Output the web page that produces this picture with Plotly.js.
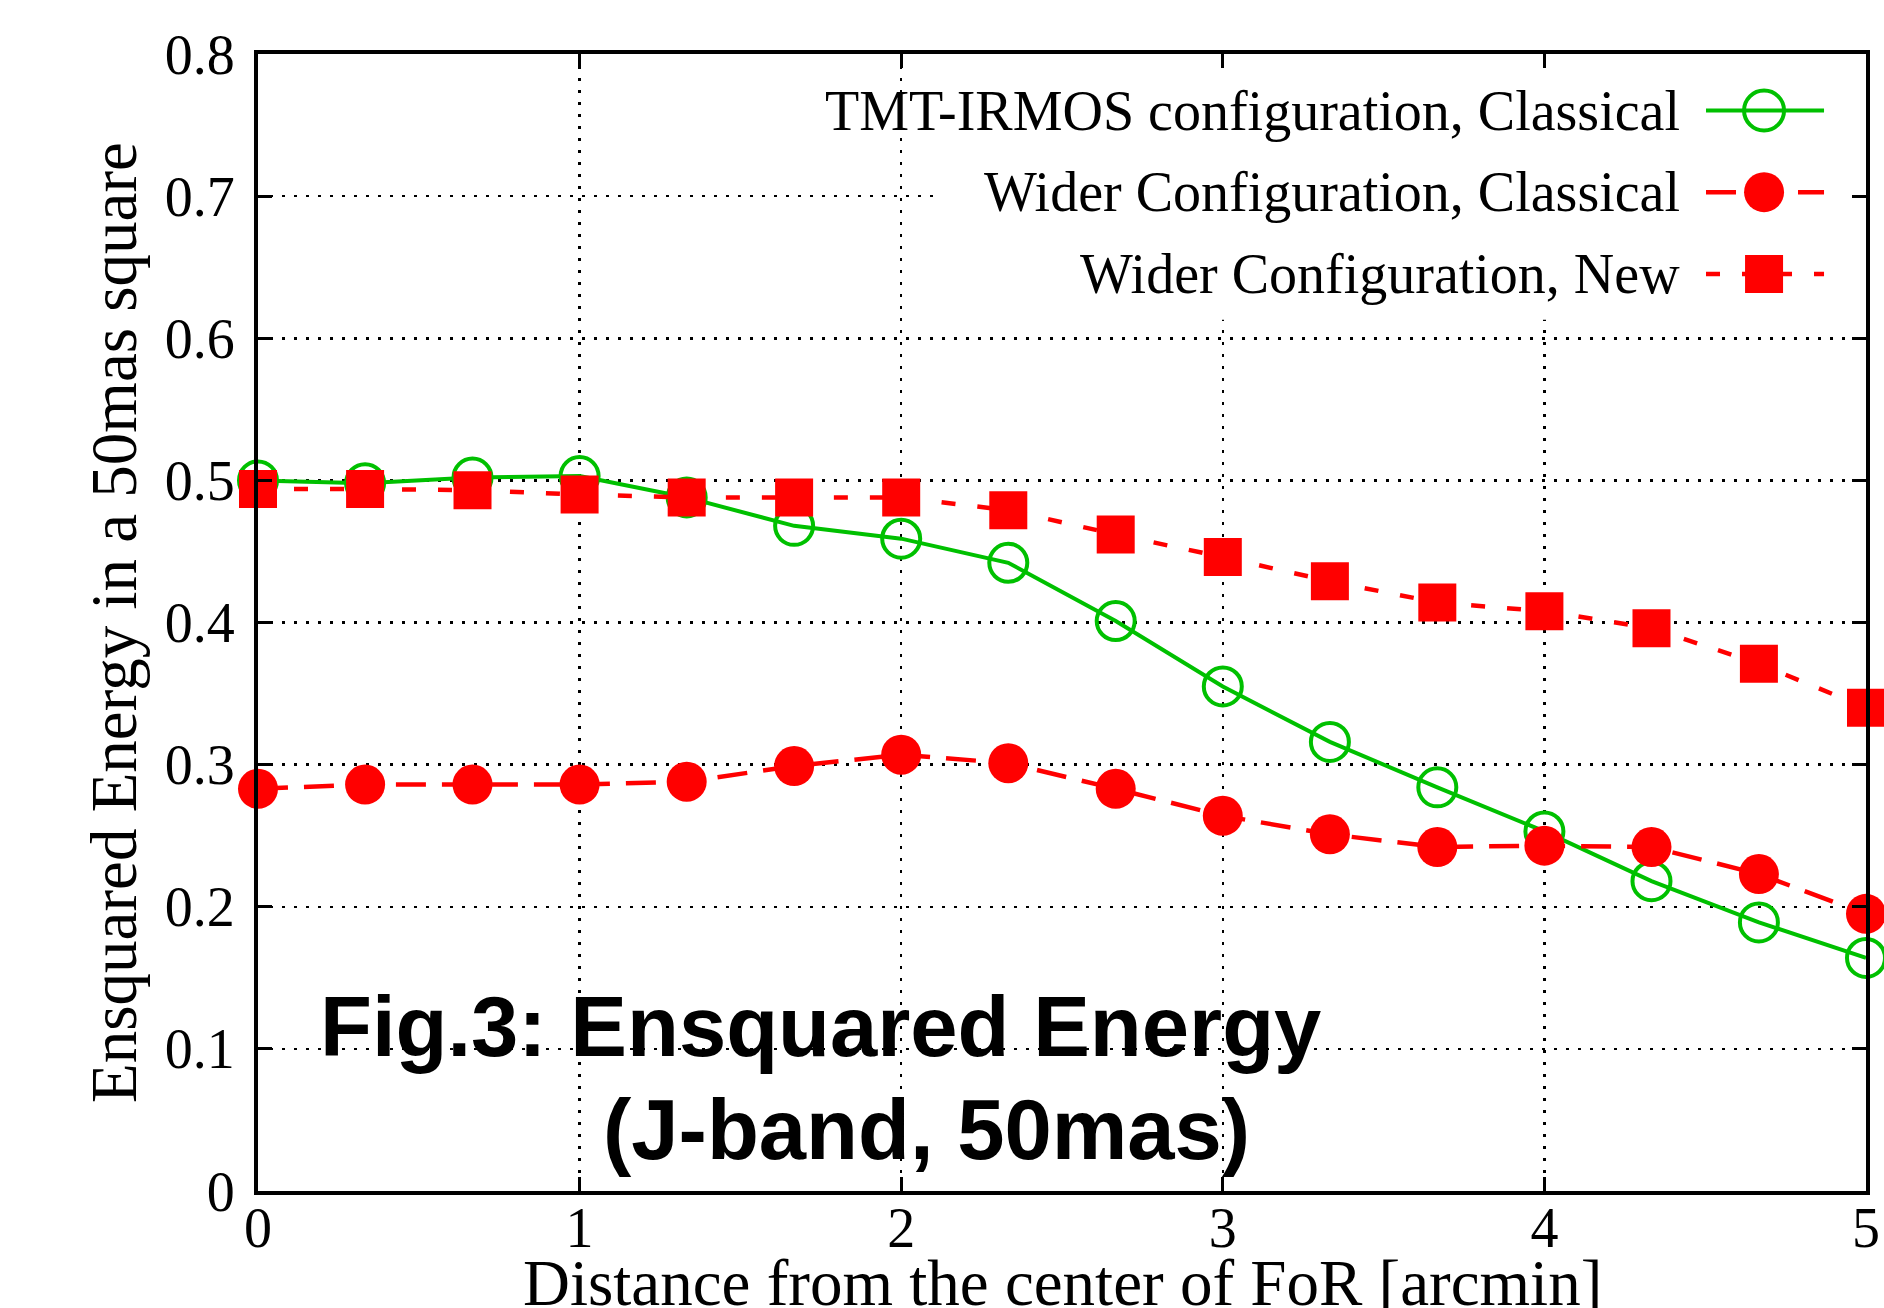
<!DOCTYPE html>
<html>
<head>
<meta charset="utf-8">
<script src="https://cdn.plot.ly/plotly-3.0.1.min.js"></script>
<style>
  html, body { margin: 0; padding: 0; background: #ffffff; overflow: hidden; }
  #chart { width: 1884px; height: 1308px; }
</style>
</head>
<body>
<div id="chart"></div>
<script>
// ---- data ----
const distance = [0, 0.333, 0.667, 1, 1.333, 1.667, 2, 2.333, 2.667, 3, 3.333, 3.667, 4, 4.333, 4.667, 5];
const tmtClassical = [0.500, 0.498, 0.502, 0.503, 0.488, 0.468, 0.459, 0.442, 0.401, 0.355, 0.316, 0.284, 0.253, 0.218, 0.189, 0.164];
const widerClassical = [0.283, 0.286, 0.286, 0.286, 0.288, 0.299, 0.307, 0.301, 0.283, 0.264, 0.251, 0.242, 0.243, 0.242, 0.223, 0.195];
const widerNew = [0.494, 0.494, 0.493, 0.490, 0.488, 0.488, 0.488, 0.479, 0.462, 0.446, 0.429, 0.414, 0.408, 0.396, 0.371, 0.340];

const seriesNames = ["TMT-IRMOS configuration, Classical", "Wider Configuration, Classical", "Wider Configuration, New"];
const xTickVals = [0, 1, 2, 3, 4, 5];
const xTickText = ["0", "1", "2", "3", "4", "5"];
const yTickVals = [0, 0.1, 0.2, 0.3, 0.4, 0.5, 0.6, 0.7, 0.8];
const yTickText = ["0", "0.1", "0.2", "0.3", "0.4", "0.5", "0.6", "0.7", "0.8"];
const xTitle = "Distance from the center of FoR [arcmin]";
const yTitle = "Ensquared Energy in a 50mas square";
const figLine1 = "Fig.3: Ensquared Energy";
const figLine2 = "(J-band, 50mas)";

// ---- styles ----
const GREEN = "#00c000";
const RED = "#ff0000";
const SERIF = "Liberation Serif, Times New Roman, serif";
const SANS = "Liberation Sans, Arial, sans-serif";
const dashCircle = "30px,16px";
const dashSquare = "14px,22px";

const traces = [
  {
    x: distance, y: tmtClassical, name: seriesNames[0], type: "scatter", mode: "lines+markers",
    line: { color: GREEN, width: 4 },
    marker: { symbol: "circle-open", size: 38, color: GREEN, line: { color: GREEN, width: 4 } },
    cliponaxis: false
  },
  {
    x: distance, y: widerClassical, name: seriesNames[1], type: "scatter", mode: "lines+markers",
    line: { color: RED, width: 4.5, dash: dashCircle },
    marker: { symbol: "circle", size: 40, color: RED },
    cliponaxis: false
  },
  {
    x: distance, y: widerNew, name: seriesNames[2], type: "scatter", mode: "lines+markers",
    line: { color: RED, width: 4.5, dash: dashSquare },
    marker: { symbol: "square", size: 38, color: RED },
    cliponaxis: false
  }
];

// plot area geometry (px) used for the hand-built key
const PW = 1608, PH = 1137;
const rx = 20 / PW, ry = 20 / PH;   // marker radius in paper units
const sx = 19 / PW, sy = 19 / PH;   // square half side
const keyTextX = 0.8856;
const keyLineX0 = 0.9005, keyLineX1 = 0.9739, keyMarkX = 0.9366;
const keyRows = [0.9503, 0.8785, 0.8065];

const shapes = [
  // opaque key box hiding the grid (drawn between grid and traces)
  { type: "rect", xref: "x", yref: "y", x0: 2.124, x1: 5, y0: 0.613, y1: 0.8,
    fillcolor: "#ffffff", line: { width: 0 }, layer: "between" },
  // key samples
  { type: "line", xref: "paper", yref: "paper", x0: keyLineX0, x1: keyLineX1, y0: keyRows[0], y1: keyRows[0],
    line: { color: GREEN, width: 4 } },
  { type: "circle", xref: "paper", yref: "paper", x0: keyMarkX - rx, x1: keyMarkX + rx, y0: keyRows[0] - ry, y1: keyRows[0] + ry,
    line: { color: GREEN, width: 4 }, fillcolor: "rgba(0,0,0,0)" },
  { type: "line", xref: "paper", yref: "paper", x0: keyLineX0, x1: keyLineX1, y0: keyRows[1], y1: keyRows[1],
    line: { color: RED, width: 4.5, dash: dashCircle } },
  { type: "circle", xref: "paper", yref: "paper", x0: keyMarkX - rx, x1: keyMarkX + rx, y0: keyRows[1] - ry, y1: keyRows[1] + ry,
    line: { color: RED, width: 0 }, fillcolor: RED },
  { type: "line", xref: "paper", yref: "paper", x0: keyLineX0, x1: keyLineX1, y0: keyRows[2], y1: keyRows[2],
    line: { color: RED, width: 4.5, dash: dashSquare } },
  { type: "rect", xref: "paper", yref: "paper", x0: keyMarkX - sx, x1: keyMarkX + sx, y0: keyRows[2] - sy, y1: keyRows[2] + sy,
    line: { color: RED, width: 0 }, fillcolor: RED }
];

const annotations = [
  { text: seriesNames[0], xref: "paper", yref: "paper", x: keyTextX, y: keyRows[0], xanchor: "right", yanchor: "middle",
    showarrow: false, font: { family: SERIF, size: 56, color: "#000" } },
  { text: seriesNames[1], xref: "paper", yref: "paper", x: keyTextX, y: keyRows[1], xanchor: "right", yanchor: "middle",
    showarrow: false, font: { family: SERIF, size: 56, color: "#000" } },
  { text: seriesNames[2], xref: "paper", yref: "paper", x: keyTextX, y: keyRows[2], xanchor: "right", yanchor: "middle",
    showarrow: false, font: { family: SERIF, size: 56, color: "#000" } },
  { text: figLine1, xref: "paper", yref: "paper", x: 0.0373, y: 0.145, xanchor: "left", yanchor: "middle",
    showarrow: false, font: { family: SANS, size: 85, color: "#000", weight: "bold" } },
  { text: figLine2, xref: "paper", yref: "paper", x: 0.2133, y: 0.0545, xanchor: "left", yanchor: "middle",
    showarrow: false, font: { family: SANS, size: 85, color: "#000", weight: "bold" } },
  // x-axis title, placed where the reference has it (partly below the page edge)
  { text: xTitle, xref: "paper", yref: "paper", x: 0.5, y: -0.0809, xanchor: "center", yanchor: "middle",
    showarrow: false, font: { family: SERIF, size: 65, color: "#000" } }
];

const axisCommon = {
  ticks: "inside", ticklen: 14, tickwidth: 3, tickcolor: "#000",
  showline: true, linewidth: 4, linecolor: "#000", mirror: "ticks",
  showgrid: true, gridcolor: "#000", gridwidth: 2.5, griddash: "3px,9px",
  zeroline: false, tickfont: { family: SERIF, size: 56, color: "#000" }
};

const layout = {
  width: 1884, height: 1308,
  margin: { l: 258, r: 18, t: 54, b: 117, pad: 0 },
  paper_bgcolor: "#ffffff", plot_bgcolor: "#ffffff",
  showlegend: false,
  xaxis: Object.assign({}, axisCommon, {
    range: [0, 5], tickmode: "array", tickvals: xTickVals, ticktext: xTickText,
    ticklabelstandoff: -15
  }),
  yaxis: Object.assign({}, axisCommon, {
    range: [0, 0.8], tickmode: "array", tickvals: yTickVals, ticktext: yTickText,
    ticklabelstandoff: 8,
    title: { text: yTitle, font: { family: SERIF, size: 65, color: "#000" }, standoff: 8 }
  }),
  shapes: shapes,
  annotations: annotations
};

Plotly.newPlot("chart", traces, layout, { staticPlot: true, displayModeBar: false });
</script>
</body>
</html>
